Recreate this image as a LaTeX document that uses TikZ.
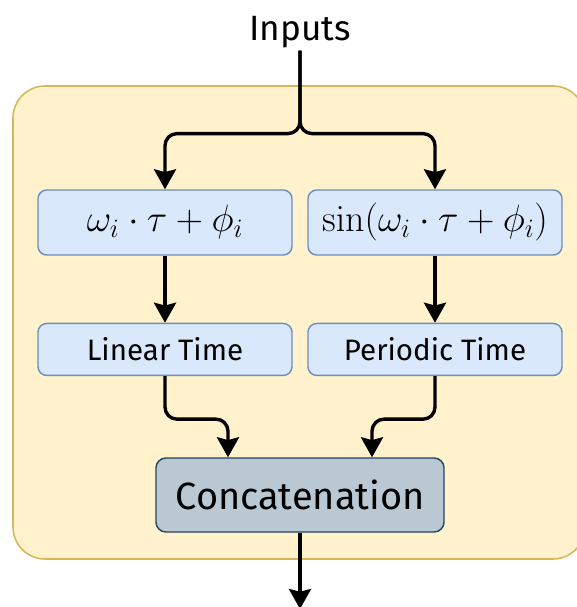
\documentclass[tikz,border=0pt]{standalone}
\usepackage{fix-cm}
\usepackage[no-math]{fontspec}
\setmainfont{Fira Sans}
\usetikzlibrary{arrows.meta, positioning}
\definecolor{panelfill}{HTML}{FFF2CC}
\definecolor{paneldraw}{HTML}{D6B656}
\definecolor{boxfill}{HTML}{DAE8FC}
\definecolor{boxdraw}{HTML}{6C8EBF}
\definecolor{catfill}{HTML}{BAC8D3}
\definecolor{catdraw}{HTML}{23445D}
\tikzset{
  panel/.style={draw=paneldraw, fill=panelfill, line width=1.1pt, rounded corners=0.8cm},
  tbox/.style={rectangle, minimum width=6.35cm, align=center, draw=boxdraw, fill=boxfill, rounded corners=0.22cm, line width=1pt, inner sep=1pt},
  mathbox/.style={tbox, minimum height=1.625cm, font=\fontsize{27}{30}\selectfont},
  namebox/.style={tbox, minimum height=1.3cm, font=\fontsize{21}{25}\selectfont},
  catbox/.style={rectangle, minimum width=7.2cm, minimum height=1.85cm, align=center, draw=catdraw, fill=catfill, rounded corners=0.25cm, line width=1pt, font=\fontsize{27}{30}\selectfont},
  arrow/.style={-{Stealth[length=0.5cm, width=0.55cm, inset=0.07cm]}, line width=2.4pt, rounded corners=0.3cm},
}

\begin{document}
\begin{tikzpicture}[x=0.025cm, y=-0.025cm]
\useasboundingbox (0,0) rectangle (577,607);
\draw[panel] (13,86) rectangle (585,559);
\node (inp)  [anchor=base, inner sep=2pt, font=\fontsize{25}{30}\selectfont] at (300,40) {Inputs};
\node (lin)  [mathbox] at (165,222.5) {$\omega_i \cdot \tau + \phi_i$};
\node (per)  [mathbox] at (435,222.5) {$\sin(\omega_i \cdot \tau + \phi_i)$};
\node (lint) [namebox, below=1.675cm of lin] {Linear Time};
\node (pert) [namebox, below=1.675cm of per] {Periodic Time};
\node (cat)  [catbox] at (300,495) {Concatenation};
\coordinate (out) at (300,609);
\draw[arrow] (inp.south) -- ++(0,83) -| (lin.north);
\draw[arrow] (inp.south) -- ++(0,83) -| (per.north);
\draw[arrow] (lin) -- (lint);
\draw[arrow] (per) -- (pert);
\draw[arrow] (lint.south) -- ++(0,43) -| ([xshift=-1.8cm]cat.north);
\draw[arrow] (pert.south) -- ++(0,43) -| ([xshift=1.8cm]cat.north);
\draw[arrow] (cat) -- (out);
\end{tikzpicture}
\end{document}
